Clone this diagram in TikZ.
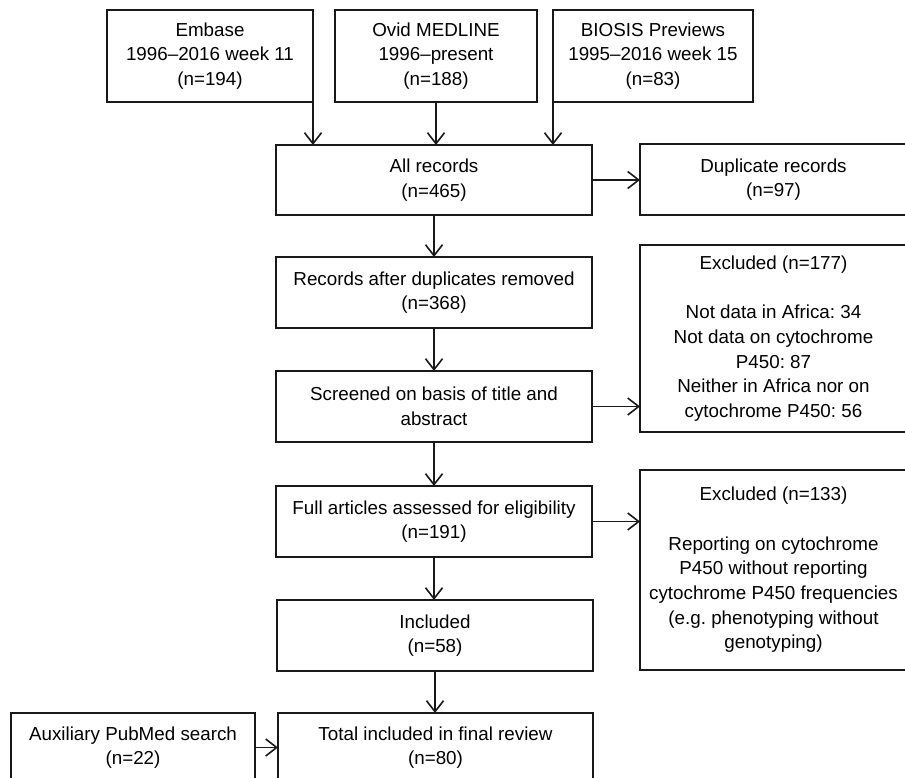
\documentclass[tikz,border=0pt]{standalone}
\usepackage{fontspec}
\setmainfont{Liberation Sans}
\frenchspacing
\usetikzlibrary{arrows.meta,positioning}
\tikzset{
  box/.style={draw=black!90, line width=1.5pt, rectangle, inner sep=0pt, outer sep=0pt,
    align=center, font=\fontsize{18.8}{24.7}\selectfont, text=black},
  arr/.style={line width=1.5pt, draw=black!90, -{Straight Barb[length=11pt,width=17pt,line width=1.6pt]}}
}
\begin{document}
\begin{tikzpicture}[x=1pt,y=1pt]
\path[use as bounding box, clip] (0,0) rectangle (905,-778);
\fill[white] (0,0) rectangle (905,-778);
\node[box, minimum width=206, minimum height=92] (embase) at (210,-56) {Embase\\1996--2016 week 11\\(n=194)};
\node[box, minimum width=202, minimum height=92] (ovid) at (436,-56) {Ovid MEDLINE\\1996--present\\(n=188)};
\node[box, minimum width=200, minimum height=92] (biosis) at (653,-56) {BIOSIS Previews\\1995--2016 week 15\\(n=83)};
\node[box, minimum width=316, minimum height=70] (all) at (434,-180) {All records\\(n=465)};
\node[box, minimum width=267, minimum height=71] (dup) at (773.5,-179.5) {Duplicate records\\(n=97)};
\node[box, minimum width=316, minimum height=71] (rec) at (434,-292.5) {Records after duplicates removed\\(n=368)};
\node[box, minimum width=267, minimum height=187] (exa) at (773.5,-338.5) {Excluded (n=177)\\[24.7pt]Not data in Africa: 34\\Not data on cytochrome\\P450: 87\\Neither in Africa nor on\\cytochrome P450: 56};
\node[box, minimum width=316, minimum height=71] (scr) at (434,-406.5) {Screened on basis of title and\\abstract};
\node[box, minimum width=316, minimum height=71] (full) at (434,-521.5) {Full articles assessed for eligibility\\(n=191)};
\node[box, minimum width=267, minimum height=200] (exb) at (773.5,-570) {Excluded (n=133)\\[24.7pt]Reporting on cytochrome\\P450 without reporting\\cytochrome P450 frequencies\\(e.g. phenotyping without\\genotyping)};
\node[box, minimum width=316, minimum height=71] (inc) at (435,-635.5) {Included\\(n=58)};
\node[box, minimum width=244, minimum height=69] (aux) at (133,-747.5) {Auxiliary PubMed search\\(n=22)};
\node[box, minimum width=315, minimum height=69] (tot) at (435.5,-747.5) {Total included in final review\\(n=80)};
\draw[arr] (embase.south east) -- (embase.south east |- all.north);
\draw[arr] (ovid.south) -- (ovid.south |- all.north);
\draw[arr] (biosis.south west) -- (biosis.south west |- all.north);
\draw[arr] (all.east) -- (all.east -| dup.west);
\draw[arr] (all.south) -- (rec.north);
\draw[arr] (rec.south) -- (scr.north);
\draw[arr] (scr.east) -- (scr.east -| exa.west);
\draw[arr] (scr.south) -- (full.north);
\draw[arr] (full.east) -- (full.east -| exb.west);
\draw[arr] (full.south) -- (full.south |- inc.north);
\draw[arr] (inc.south) -- (inc.south |- tot.north);
\draw[arr] (aux.east) -- (aux.east -| tot.west);
\end{tikzpicture}
\end{document}
